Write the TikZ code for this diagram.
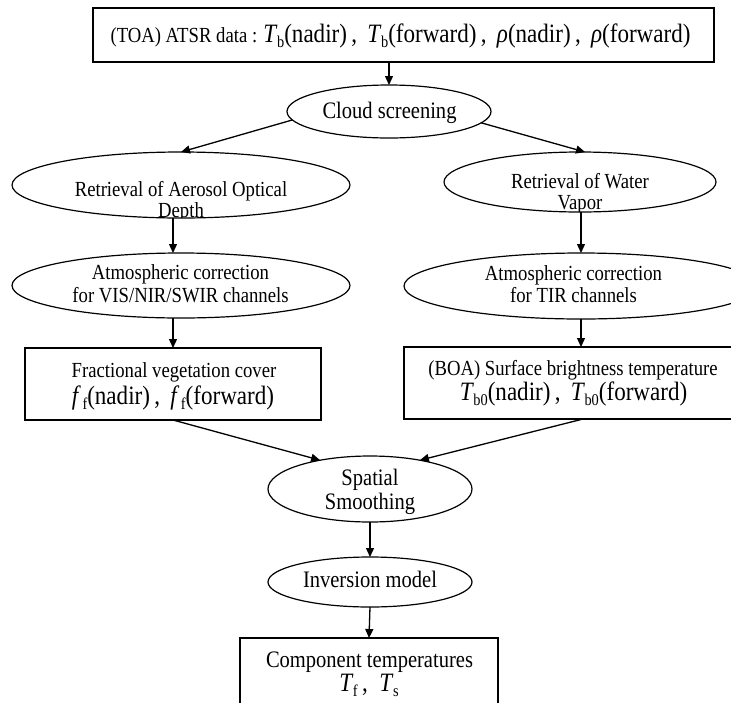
\documentclass[tikz,border=0pt]{standalone}
\usepackage{fontspec}
\setmainfont{Liberation Serif}[FakeStretch=0.87]
\usetikzlibrary{shapes.geometric,arrows.meta}
\newcommand{\msz}{\fontsize{26.5}{26.5}\selectfont}
\newcommand{\sbs}[1]{\raisebox{-0.19em}{\fontsize{16.5}{16.5}\selectfont #1}}
\newcommand{\Tsb}[1]{\textit{T}\kern-0.5pt\sbs{#1}}
\newcommand{\fsb}{\textit{f}\kern1.5pt\sbs{f}}
\newcommand{\rhoi}{\textit{ρ}}
\begin{document}
\begin{tikzpicture}[x=1pt,y=-1pt,
  every node/.style={inner sep=0pt, outer sep=0pt},
  box/.style={draw, line width=1.2pt, rectangle},
  ell/.style={draw, line width=1.2pt, ellipse},
  txs/.style={anchor=base, font=\fontsize{21.5}{23}\selectfont},
  txm/.style={anchor=base, font=\fontsize{23.6}{25}\selectfont},
  arr/.style={line width=1.3pt, -{Triangle[length=9pt,width=8pt]}}]
\useasboundingbox (0,0) rectangle (731,702);
\clip (0,0) rectangle (731,702);
% shapes
\node[box, minimum width=621, minimum height=54] (top) at (403.5,35) {};
\node[ell, minimum width=204, minimum height=53] (cloud) at (389,111.5) {};
\node[ell, minimum width=338, minimum height=66] (aod) at (181,185) {};
\node[ell, minimum width=272, minimum height=60] (wv) at (580,182) {};
\node[ell, minimum width=338, minimum height=65] (acl) at (181,285.5) {};
\node[ell, minimum width=354, minimum height=66] (acr) at (581,286) {};
\node[box, minimum width=296, minimum height=72] (fvc) at (173,384) {};
\node[box, minimum width=354, minimum height=72] (boa) at (581,383) {};
\node[ell, minimum width=204, minimum height=66] (sp) at (370,489) {};
\node[ell, minimum width=204, minimum height=50] (inv) at (370,582) {};
\node[box, minimum width=258, minimum height=80] (comp) at (369,678) {};
% texts
\node[txs] (topT) at (400.5,42) {(TOA) ATSR data : {\msz\Tsb{b}(nadir)\,,\, \Tsb{b}(forward)\,,\, \rhoi(nadir)\,,\, \rhoi(forward)}};
\node[txm] (cloudT) at (389.5,118) {Cloud screening};
\begin{scope}
\clip (181,185) ellipse [x radius=168.4, y radius=32.4];
\node[txs] (aodT1) at (181,196) {Retrieval of Aerosol Optical};
\node[txs] (aodT2) at (181,217) {Depth};
\end{scope}
\begin{scope}
\clip (580,182) ellipse [x radius=135.4, y radius=29.4];
\node[txs] (wvT1) at (580,188) {Retrieval of Water};
\node[txs] (wvT2) at (580,209) {Vapor};
\end{scope}
\node[txs] (aclT1) at (180.5,279) {Atmospheric correction};
\node[txs] (aclT2) at (180.5,302) {for VIS/NIR/SWIR channels};
\node[txs] (acrT1) at (573.5,280) {Atmospheric correction};
\node[txs] (acrT2) at (573.5,302) {for TIR channels};
\node[txs] (fvcT1) at (174,377) {Fractional vegetation cover};
\node[txs] (fvcT2) at (173,404) {\msz\fsb(nadir)\,,\, \fsb(forward)};
\node[txs] (boaT1) at (573,375) {(BOA) Surface brightness temperature};
\node[txs] (boaT2) at (573.5,400) {\msz\Tsb{b0}(nadir)\,,\, \Tsb{b0}(forward)};
\node[txm] (spT1) at (370,485) {Spatial};
\node[txm] (spT2) at (370,509) {Smoothing};
\node[txm] (invT) at (370,587) {Inversion model};
\node[txm] (compT1) at (369.5,667) {Component temperatures};
\node[txm] (compT2) at (369,691) {\msz\Tsb{f}\,, \ \Tsb{s}};
% connectors
\draw[arr] (top.south -| cloud.north) -- (cloud.north);
\draw[arr] (cloud.185) -- (aod.north);
\draw[arr] (cloud.353) -- ([xshift=5pt]wv.north);
\draw[arr] (aod.south -| fvc.north) -- (acl.north -| fvc.north);
\draw[arr] (acl.south -| fvc.north) -- (fvc.north);
\draw[arr] (wv.south -| boa.north) -- (acr.north -| boa.north);
\draw[arr] (acr.south -| boa.north) -- (boa.north);
\draw[arr] (fvc.south) -- (sp.150);
\draw[arr] ([xshift=2pt]boa.south) -- (sp.30);
\draw[arr] (sp.south) -- (inv.north);
\draw[arr] (inv.south) -- (comp.north);
\end{tikzpicture}
\end{document}
